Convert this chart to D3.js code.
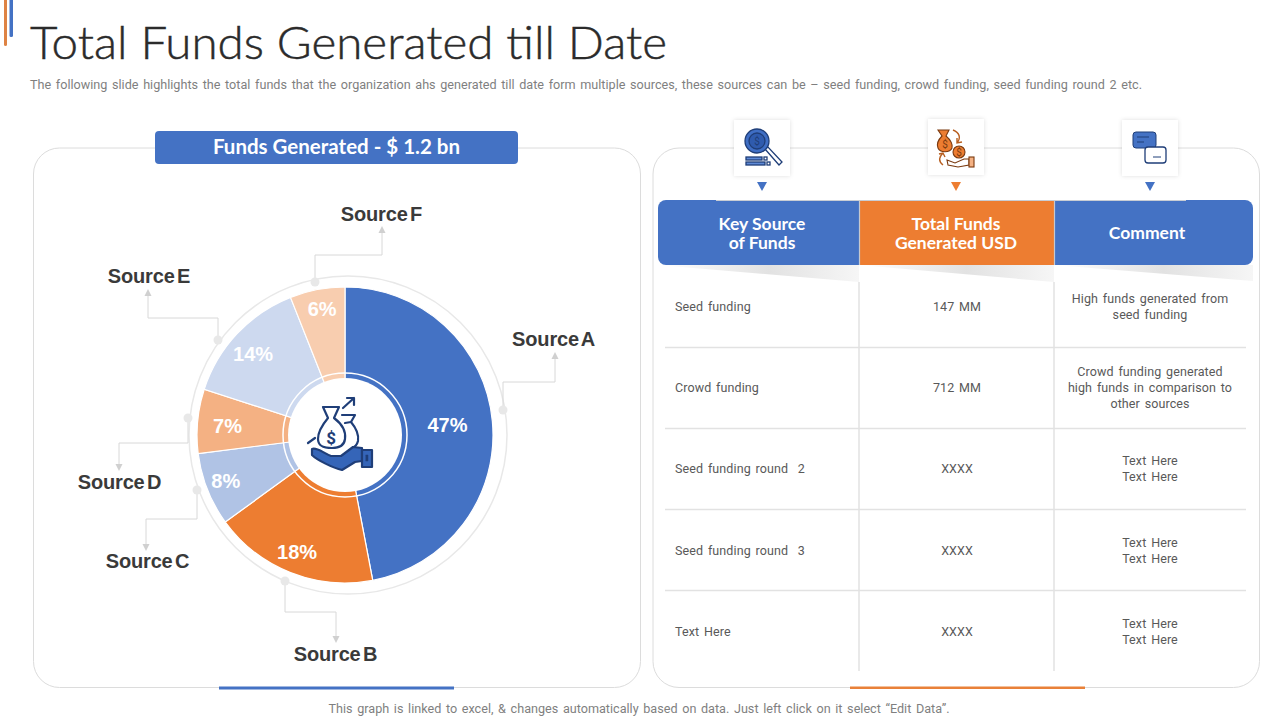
<!DOCTYPE html>
<html><head><meta charset="utf-8">
<script src="https://cdn.jsdelivr.net/npm/d3@7"></script>
<style>html,body{margin:0;padding:0;background:#fff}svg{display:block}text{font-family:Roboto,sans-serif}</style>
</head><body><svg id="c" width="1280" height="720"></svg>
<script>
const sources=["Source A","Source B","Source C","Source D","Source E","Source F"];
const shares=[47,18,8,7,14,6];
const sliceColors=["#4472C4","#ED7D31","#B0C3E5","#F4B183","#CDD9EF","#F8CDAF"];
const headers=[["Key Source","of Funds"],["Total Funds","Generated USD"],["Comment"]];
const headerColors=["#4472C4","#ED7D31","#4472C4"];
const rowNames=["Seed funding","Crowd funding","Seed funding round  2","Seed funding round  3","Text Here"];
const rowFunds=["147 MM","712 MM","XXXX","XXXX","XXXX"];
const rowComments=[["High funds generated from","seed funding"],["Crowd funding generated","high funds in comparison to","other sources"],["Text Here","Text Here"],["Text Here","Text Here"],["Text Here","Text Here"]];

const svg=d3.select("#c");
const defs=svg.append("defs");
const grad=defs.append("linearGradient").attr("id","sh");
grad.append("stop").attr("offset",0).attr("stop-color","#fff");
grad.append("stop").attr("offset",.55).attr("stop-color","#e2e2e2");
grad.append("stop").attr("offset",1).attr("stop-color","#f6f6f6");
const f=defs.append("filter").attr("id","soft").attr("x","-20%").attr("y","-20%").attr("width","140%").attr("height","140%");
f.append("feDropShadow").attr("dx",0).attr("dy",0).attr("stdDeviation",2).attr("flood-color","#000").attr("flood-opacity",.13);

// accents
svg.append("rect").attr("x",4).attr("y",-5).attr("width",3).attr("height",51).attr("rx",1.5).attr("fill","#DE8344");
svg.append("rect").attr("x",9.5).attr("y",-5).attr("width",3.5).attr("height",42).attr("rx",1.5).attr("fill","#4472C4");

// title
svg.append("text").attr("x",30).attr("y",59).attr("font-size",45).attr("fill","#2b2b2b").attr("stroke","#2b2b2b").attr("stroke-width",0.45)
  .style("font-family","Lato").style("font-weight",300).attr("textLength",637).attr("lengthAdjust","spacingAndGlyphs")
  .text("Total Funds Generated till Date");
svg.append("text").attr("x",30).attr("y",89).attr("font-size",12.5).attr("fill","#7f7f7f").style("word-spacing","1.5px")
  .attr("textLength",1112).attr("lengthAdjust","spacingAndGlyphs").text("The following  slide highlights the total funds that the organization  ahs generated  till date form  multiple sources, these sources can be – seed funding,  crowd funding,  seed funding round 2 etc.");

// panels
[[33,607],[652.5,606.5]].forEach(([x,w])=>svg.append("rect").attr("x",x+.5).attr("y",148).attr("width",w).attr("height",539.5).attr("rx",26)
  .attr("fill","#fff").attr("stroke","#dcdcdc"));
svg.append("rect").attr("x",219).attr("y",686.5).attr("width",235).attr("height",3).attr("fill","#4472C4");
svg.append("rect").attr("x",850).attr("y",686.5).attr("width",235).attr("height",2.5).attr("fill","#E98139");

// banner
svg.append("rect").attr("x",155).attr("y",131).attr("width",363).attr("height",33).attr("rx",4).attr("fill","#4472C4");
svg.append("text").attr("x",336.5).attr("y",154).attr("text-anchor","middle").attr("font-size",20.5).attr("fill","#fff")
  .style("font-family","Lato").style("font-weight",700).text("Funds Generated - $ 1.2 bn");

// pie
const cx=345,cy=435;
const g=svg.append("g").attr("transform",`translate(${cx},${cy})`);
g.append("circle").attr("cx",3).attr("r",159).attr("fill","none").attr("stroke","#e8e8e8").attr("stroke-width",1.5);
const pie=d3.pie().value(d=>d).sort(null);
const arc=d3.arc().innerRadius(0).outerRadius(148);
const arcs=pie(shares);
g.selectAll("path.s").data(arcs).join("path").attr("class","s").attr("d",arc)
  .attr("fill",(d,i)=>sliceColors[i]).attr("stroke","#fff").attr("stroke-width",1.2);
g.append("circle").attr("r",62).attr("fill","none").attr("stroke","#fff").attr("stroke-width",1.5);
g.append("circle").attr("r",57).attr("fill","#fff");
const labelArc=d3.arc().innerRadius(111).outerRadius(111);
const labelShift=[[-8,0],[-7,14],[-16,5],[-7,1],[-11,-5],[-2,-17]];
g.selectAll("text.p").data(arcs).join("text").attr("class","p")
  .attr("transform",(d,i)=>{const c=labelArc.centroid(d);return `translate(${c[0]+labelShift[i][0]},${c[1]+labelShift[i][1]})`;})
  .attr("text-anchor","middle").attr("dy","0.36em").attr("font-size",20).attr("font-weight",700)
  .style("font-family","'Liberation Sans'").attr("fill","#fff").text(d=>d.data+"%");

// centre icon
const ic=svg.append("g").attr("transform",`translate(${cx},${cy})`).attr("fill","none").attr("stroke","#1F3E78").attr("stroke-width",2.2).attr("stroke-linejoin","round").attr("stroke-linecap","round");
ic.append("path").attr("d","M-22,-28 L-6,-28 L-11,-17 C-3,-11 1,-3 0,4 C-1,12 -8,13 -13,13 C-20,13 -27,12 -27,4 C-27,-4 -22,-11 -17,-17 Z");
ic.append("path").attr("d","M-3,-20 L10,-20 L6,-13 C11,-7 14,0 13,6 C12,10 10,12 7,13");
ic.append("path").attr("d","M0,-12 L6,-13");
ic.append("path").attr("d","M-2,-27 L9,-37 M2,-37 L9,-37 L9,-30");
ic.append("path").attr("d","M-37,8 L-30,3");
ic.append("text").attr("x",-14).attr("y",9).attr("text-anchor","middle").attr("font-size",17).attr("font-weight",700).attr("stroke","none").attr("fill","#1F3E78").text("$");
ic.append("path").attr("fill","#3565B8").attr("d","M-33,14 C-28,12 -22,18 -14,21 L-4,21 L8,12 L17,13 L17,26 L10,27 L-3,35 C-12,33 -28,25 -33,20 Z");
ic.append("rect").attr("x",17).attr("y",15).attr("width",10).attr("height",17).attr("fill","#3565B8");
ic.append("rect").attr("x",21).attr("y",20).attr("width",2).attr("height",6).attr("fill","#1F3E78").attr("stroke-width",.5);

// leader lines
const leaders=[
 {pts:[[503,410],[503,382],[555,382],[555,358]],lab:[553.5,346]},
 {pts:[[285,581],[285,612],[336,612],[336,637]],lab:[335.5,661]},
 {pts:[[197,490],[197,519],[146,519],[146,545]],lab:[147.5,568]},
 {pts:[[188,418],[188,443],[119,443],[119,465]],lab:[119.5,489]},
 {pts:[[218,340],[218,318],[148,318],[148,295]],lab:[149,283]},
 {pts:[[315,282],[315,255],[382,255],[382,232]],lab:[381.5,221]}
];
const line=d3.line();
leaders.forEach((l,i)=>{
  svg.append("path").attr("d",line(l.pts)).attr("fill","none").attr("stroke","#d8d8d8").attr("stroke-width",1);
  svg.append("circle").attr("cx",l.pts[0][0]).attr("cy",l.pts[0][1]).attr("r",4.5).attr("fill","#e8e8e8");
  const e=l.pts[3],up=e[1]<l.pts[2][1]?-1:1;
  svg.append("path").attr("d",`M${e[0]-3.5},${e[1]-up} L${e[0]+3.5},${e[1]-up} L${e[0]},${e[1]+6*up} Z`).attr("fill","#d0d0d0");
  svg.append("text").attr("x",l.lab[0]).attr("y",l.lab[1]).attr("text-anchor","middle").attr("font-size",20).attr("font-weight",700)
    .attr("fill","#3a3a3a").style("font-family","'Liberation Sans'").style("word-spacing","-3px").attr("letter-spacing","-0.15").text(sources[i]);
});

// icon boxes
const colX=d3.scaleOrdinal().domain([0,1,2]).range([762,956,1150]);
headers.forEach((h,i)=>{
  const x=colX(i);
  svg.append("rect").attr("x",x-28).attr("y",i==1?119:120).attr("width",56).attr("height",56).attr("fill","#fff").attr("filter","url(#soft)");
  svg.append("path").attr("d",`M${x-5},182 L${x+5},182 L${x},191 Z`).attr("fill",headerColors[i]);
});
// icon 1: magnifier
const i1=svg.append("g").attr("fill","none").attr("stroke","#1F3E78").attr("stroke-width",1.3);
i1.append("path").attr("d","M765,149 L779,165 L782,162 L768,147 Z").attr("fill","#fff");
i1.append("circle").attr("cx",757).attr("cy",141).attr("r",12).attr("fill","#3F6EC4");
i1.append("circle").attr("cx",757).attr("cy",141).attr("r",8).attr("fill","#2F5BAE");
i1.append("text").attr("x",757).attr("y",145).attr("text-anchor","middle").attr("font-size",10).attr("stroke","none").attr("fill","#1F3E78").text("$");
i1.append("rect").attr("x",746).attr("y",157).attr("width",16).attr("height",3).attr("fill","#5F8AD6");
i1.append("rect").attr("x",746).attr("y",162).attr("width",19).attr("height",3).attr("fill","#5F8AD6");
i1.append("rect").attr("x",764).attr("y",157).attr("width",3).attr("height",3);
i1.append("rect").attr("x",767).attr("y",162).attr("width",3).attr("height",3);
// icon 2: money
const i2=svg.append("g").attr("fill","none").attr("stroke","#7A3A10").attr("stroke-width",1.1);
i2.append("path").attr("fill","#ED7D31").attr("d","M938,130 L949,130 L946,136 C951,140 953,145 952,148 C950,153 940,153 938,148 C936,143 939,139 942,136 Z");
i2.append("text").attr("x",945).attr("y",148).attr("text-anchor","middle").attr("font-size",10).attr("stroke","none").attr("fill","#7A3A10").text("$");
i2.append("circle").attr("cx",959).attr("cy",152).attr("r",6).attr("fill","#ED7D31");
i2.append("text").attr("x",959).attr("y",155.5).attr("text-anchor","middle").attr("font-size",10).attr("stroke","none").attr("fill","#7A3A10").text("$");
i2.append("path").attr("stroke","#B85F20").attr("stroke-width",1.4).attr("d","M953,130 C960,133 961,138 957,143 M957,138 L957,143 L962,142 M943,165 C938,161 939,157 943,153 M939,154 L943,153 L945,157");
i2.append("path").attr("d","M947,160 L955,163 L964,159 L969,159 L969,165 L958,167 L948,165 Z").attr("fill","#fff");
i2.append("rect").attr("x",969).attr("y",157).attr("width",5).attr("height",10).attr("fill","#F4B183");
// icon 3: speech
svg.append("rect").attr("x",1133).attr("y",132).attr("width",23).attr("height",16).attr("rx",3).attr("fill","#4472C4").attr("stroke","#1F3E78");
svg.append("path").attr("d","M1137,137 L1149,137 M1137,142 L1144,142").attr("stroke","#1F3E78").attr("fill","none");
svg.append("rect").attr("x",1145).attr("y",147).attr("width",21).attr("height",16).attr("rx",3).attr("fill","#fff").attr("stroke","#1F3E78").attr("stroke-width",1.3);
svg.append("path").attr("d","M1153,157 L1161,157").attr("stroke","#1F3E78");

// table header
const cols=[658,859,1054,1253];
svg.append("clipPath").attr("id","hc").append("rect").attr("x",658).attr("y",200).attr("width",595).attr("height",65).attr("rx",8);
const hg=svg.append("g").attr("clip-path","url(#hc)");
headers.forEach((h,i)=>{
  hg.append("rect").attr("x",cols[i]).attr("y",200).attr("width",cols[i+1]-cols[i]).attr("height",65).attr("fill",headerColors[i]);
  svg.append("path").attr("d",`M${cols[i]},265 L${cols[i+1]},265 L${cols[i+1]},${i==2?281:282} Z`).attr("fill","url(#sh)");
  const tx=[762,956,1147][i];
  const t=svg.append("text").attr("text-anchor","middle").attr("font-size",17.5).attr("fill","#fff").style("font-family","Lato").style("font-weight",700);
  h.forEach((s,k)=>t.append("tspan").attr("x",tx).attr("y",(h.length==1?239:230)+k*19).text(s));
});
svg.append("path").attr("d","M859.5,200V265M1054.5,200V265").attr("stroke","#c4c8d0").attr("stroke-width",1.2);
svg.append("path").attr("d","M716,200.5H1186").attr("stroke","#c9cdd4").attr("stroke-width",1);

// table grid
const rowY=d3.scaleBand().domain(d3.range(rowNames.length)).range([266,671.5]);
d3.range(1,rowNames.length).forEach(r=>svg.append("line").attr("x1",665).attr("x2",1246).attr("y1",Math.round(rowY(r))+.5).attr("y2",Math.round(rowY(r))+.5).attr("stroke","#e2e2e2").attr("stroke-width",1.5));
[859,1054].forEach(x=>svg.append("line").attr("x1",x).attr("x2",x).attr("y1",282).attr("y2",671).attr("stroke","#e2e2e2").attr("stroke-width",1.5));
const ty=r=>rowY(r)+rowY.bandwidth()/2+(r>=3?1:0);
rowNames.forEach((n,r)=>{
  const y=ty(r);
  const style=s=>s.attr("font-size",12.5).attr("fill","#595959").style("word-spacing","1.6px").attr("letter-spacing","0.1").style("white-space","pre");
  style(svg.append("text").attr("x",675).attr("y",y+4.5)).text(n);
  style(svg.append("text").attr("x",957).attr("y",y+4.5).attr("text-anchor","middle")).text(rowFunds[r]);
  const c=rowComments[r];
  const t=style(svg.append("text").attr("text-anchor","middle"));
  c.forEach((s,k)=>t.append("tspan").attr("x",1150).attr("y",y+4.5+(k-(c.length-1)/2)*16).text(s));
});

// footer
svg.append("text").attr("x",639).attr("y",713).attr("text-anchor","middle").attr("font-size",12.5).attr("fill","#7f7f7f").style("word-spacing","1.5px")
  .attr("textLength",621).attr("lengthAdjust","spacingAndGlyphs").text("This graph is linked to excel, & changes automatically based on data. Just left click on it select “Edit Data”.");
</script></body></html>
